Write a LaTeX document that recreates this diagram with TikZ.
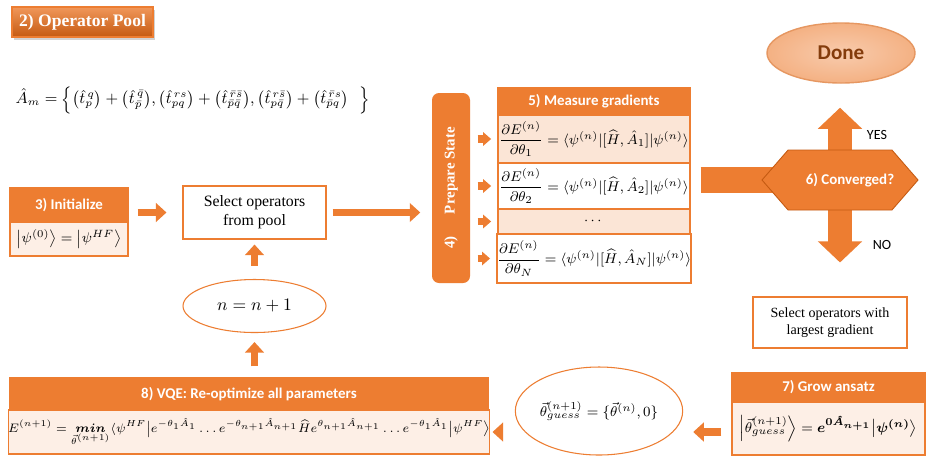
\documentclass[tikz,border=0pt]{standalone}
\usepackage{amsmath, amsfonts, amssymb, bm}
\usepackage{fontspec}
\setsansfont{Carlito}
\newfontfamily\serifbox{Liberation Serif}
\usepackage{xcolor}
\usepackage{tikz}
\usetikzlibrary{shapes.geometric, shapes.symbols, arrows.meta, positioning, calc, shadows}

\definecolor{orMain}{HTML}{ED7D31}
\definecolor{orDark}{HTML}{C55A11}
\definecolor{orLight}{HTML}{FBE5D6}
\definecolor{orPale}{HTML}{F8CBAD}
\definecolor{orDone}{HTML}{F4B183}
\definecolor{doneText}{HTML}{843C0C}

\begin{document}
\begin{tikzpicture}[>=latex, thick]
        \tikzstyle{headBox} = [rectangle, draw=orMain, fill=orMain, text=white, font=\sffamily\bfseries\fontsize{8.5}{10}\selectfont, inner sep=0pt, line width=0.6pt]
        \tikzstyle{bodyBox} = [rectangle, draw=orMain, fill=orLight!60, inner sep=0pt, line width=0.6pt]
        \tikzstyle{rowBox} = [rectangle, draw=orMain, line width=1pt, inner sep=0pt, minimum width=3.84cm, font=\fontsize{8.2}{10}\selectfont]
        \tikzstyle{plainBox} = [rectangle, draw=orMain, fill=white, line width=0.6pt, align=center, font=\serifbox\fontsize{9}{11}\selectfont]
        \tikzstyle{ovalBox} = [ellipse, draw=orMain, fill=white, line width=0.6pt, inner sep=0pt]
        \tikzstyle{blockArrow} = [draw=orMain, line width=4.5pt, -{Triangle[width=10.5pt, length=6pt]}]
        \tikzstyle{smallArrow} = [draw=orMain, line width=4pt, -{Triangle[width=7.5pt, length=4.5pt]}]
        \tikzstyle{bigArrow} = [draw=orMain, line width=14pt, -{Triangle[width=24.5pt, length=12pt]}]

        \path[fill=white] (0,0) rectangle (18.54,-9.14);
        \useasboundingbox (0,0) rectangle (18.54,-9.14);

        \node[headBox, minimum width=2.82cm, minimum height=0.6cm, top color=orMain!80!white, bottom color=orDark, font=\serifbox\bfseries\fontsize{10}{12}\selectfont, drop shadow={opacity=0.35, shadow xshift=1pt, shadow yshift=-1.5pt}] (pool) at (1.65,-0.44) {2) Operator Pool};
        \node[anchor=west, inner sep=0pt, font=\fontsize{8.6}{10}\selectfont] (poolEq) at (0.3,-2.0) {$\hat{A}_m=\Bigl\{\bigl(\hat{t}_p^{\,q}\bigr)+\bigl(\hat{t}_{\bar p}^{\,\bar q}\bigr),\bigl(\hat{t}_{pq}^{\,rs}\bigr)+\bigl(\hat{t}_{\bar p\bar q}^{\,\bar r\bar s}\bigr),\bigl(\hat{t}_{p\bar q}^{\,r\bar s}\bigr)+\bigl(\hat{t}_{\bar pq}^{\,\bar rs}\bigr)\ \ \Bigr\}$};

        \node[headBox, minimum width=2.36cm, minimum height=0.68cm] (initH) at (1.38,-4.1) {3) Initialize};
        \node[bodyBox, minimum width=2.36cm, minimum height=0.68cm, font=\fontsize{8.5}{10}\selectfont] (initB) at (1.38,-4.78) {$\left|\psi^{(0)}\right\rangle=\left|\psi^{HF}\right\rangle$};

        \node[plainBox, minimum width=2.86cm, minimum height=1.06cm] (select) at (5.09,-4.25) {Select operators\\from pool};
        \node[ovalBox, minimum width=2.86cm, minimum height=1.06cm] (incr) at (5.09,-6.12) {$n=n+1$};

        \node[rectangle, rounded corners=4pt, fill=orMain, minimum width=0.76cm, minimum height=3.8cm] (prep) at (9.02,-3.76) {};
        \node[rotate=90, text=white, font=\serifbox\bfseries\fontsize{8.5}{10}\selectfont] (prepText) at (prep.center) {4)\hspace{1.5em}Prepare State};

        \node[headBox, minimum width=3.84cm, minimum height=0.54cm] (gradH) at (11.88,-2.03) {5) Measure gradients};
        \node[rowBox, fill=orLight, minimum height=0.96cm] (row1) at (11.88,-2.78) {$\dfrac{\partial E^{(n)}}{\partial\theta_1}=\langle\psi^{(n)}|[\widehat{H},\hat{A}_1]|\psi^{(n)}\rangle$};
        \node[rowBox, fill=white, minimum height=0.92cm] (row2) at (11.88,-3.72) {$\dfrac{\partial E^{(n)}}{\partial\theta_2}=\langle\psi^{(n)}|[\widehat{H},\hat{A}_2]|\psi^{(n)}\rangle$};
        \node[rowBox, fill=orLight, minimum height=0.5cm] (row3) at (11.88,-4.43) {$\cdots$};
        \node[rowBox, fill=white, minimum height=0.98cm] (row4) at (11.88,-5.17) {$\dfrac{\partial E^{(n)}}{\partial\theta_N}=\langle\psi^{(n)}|[\widehat{H},\hat{A}_N]|\psi^{(n)}\rangle$};

        \node[ellipse, draw=orDone!70!orDark, inner color=orPale, outer color=orDone, minimum width=2.96cm, minimum height=1.2cm, text=doneText, font=\sffamily\bfseries\fontsize{12}{14}\selectfont] (done) at (16.82,-1.06) {Done};
        \node[plainBox, minimum width=3.08cm, minimum height=1.02cm, font=\serifbox\fontsize{8}{9.5}\selectfont] (sel2) at (16.6,-6.45) {Select operators with\\largest gradient};

        \coordinate (convC) at (16.8,-3.6);
        \draw[orMain, line width=14.7pt, shorten <=0.2cm] (gradH.east |- convC) -- (convC);
        \draw[bigArrow, shorten >=0.48cm] (convC) -- (convC |- done.south);
        \draw[bigArrow, shorten >=0.68cm] (convC) -- (convC |- sel2.north);
        \node[signal, signal to=east and west, signal pointer angle=98, fill=orMain, draw=orDark, line width=0.5pt, minimum width=3.12cm, minimum height=1.2cm, inner sep=0pt] (conv) at (convC) {};
        \node[text=white, font=\sffamily\bfseries\fontsize{8.5}{10}\selectfont] (convText) at ([xshift=0.2cm]conv.center) {6) Converged?};
        \node[font=\sffamily\fontsize{8}{10}\selectfont] (yes) at (17.54,-2.7) {YES};
        \node[font=\sffamily\fontsize{8}{10}\selectfont] (no) at (17.64,-4.9) {NO};

        \node[headBox, minimum width=9.56cm, minimum height=0.64cm] (vqeH) at (4.98,-7.88) {8) VQE: Re-optimize all parameters};
        \node[bodyBox, minimum width=9.56cm, minimum height=0.88cm, font=\fontsize{7.5}{9}\selectfont] (vqeB) at (4.98,-8.64) {$E^{(n+1)}=\underset{\vec{\theta}^{(n+1)}}{\boldsymbol{min}}\langle\psi^{HF}\big|e^{-\theta_1\hat{A}_1}\ldots e^{-\theta_{n+1}\hat{A}_{n+1}}\widehat{H}e^{\theta_{n+1}\hat{A}_{n+1}}\ldots e^{-\theta_1\hat{A}_1}\big|\psi^{HF}\big\rangle$};

        \node[ovalBox, minimum width=2.96cm, minimum height=1.76cm, font=\fontsize{8}{10}\selectfont] (guess) at (11.98,-8.22) {$\vec{\theta}^{(n+1)}_{guess}=\{\vec{\theta}^{(n)},0\}$};

        \node[headBox, minimum width=3.86cm, minimum height=0.58cm] (growH) at (16.57,-7.75) {7) Grow ansatz};
        \node[bodyBox, minimum width=3.86cm, minimum height=1.06cm, font=\fontsize{8.3}{10}\selectfont] (growB) at (16.57,-8.57) {$\left|\vec{\theta}^{(n+1)}_{guess}\right\rangle=\boldsymbol{e^{0\hat{A}_{n+1}}\big|\psi^{(n)}\big\rangle}$};

        \draw[blockArrow, shorten <=0.18cm, shorten >=0.32cm] (initH.east |- select.west) -- (select.west);
        \draw[blockArrow, shorten <=0.12cm, shorten >=0.22cm] (select.east) -- (select.east -| prep.west);
        \draw[blockArrow, shorten <=0.26cm, shorten >=0.1cm] (incr.north) -- (select.south);
        \draw[blockArrow, shorten <=0.22cm, shorten >=0.18cm] (incr.south |- vqeH.north) -- (incr.south);
        \foreach \r in {row1, row2, row3, row4}
            \draw[smallArrow, shorten <=0.14cm, shorten >=0.12cm] (prep.east |- \r.west) -- (\r.west);
        \draw[blockArrow, shorten <=0.2cm, shorten >=0.2cm] (growB.west |- vqeB.east) -- (guess.east |- vqeB.east);
        \draw[blockArrow, shorten <=0.3cm, shorten >=0.04cm] (guess.west |- vqeB.east) -- (vqeB.east);
    \end{tikzpicture}
\end{document}
